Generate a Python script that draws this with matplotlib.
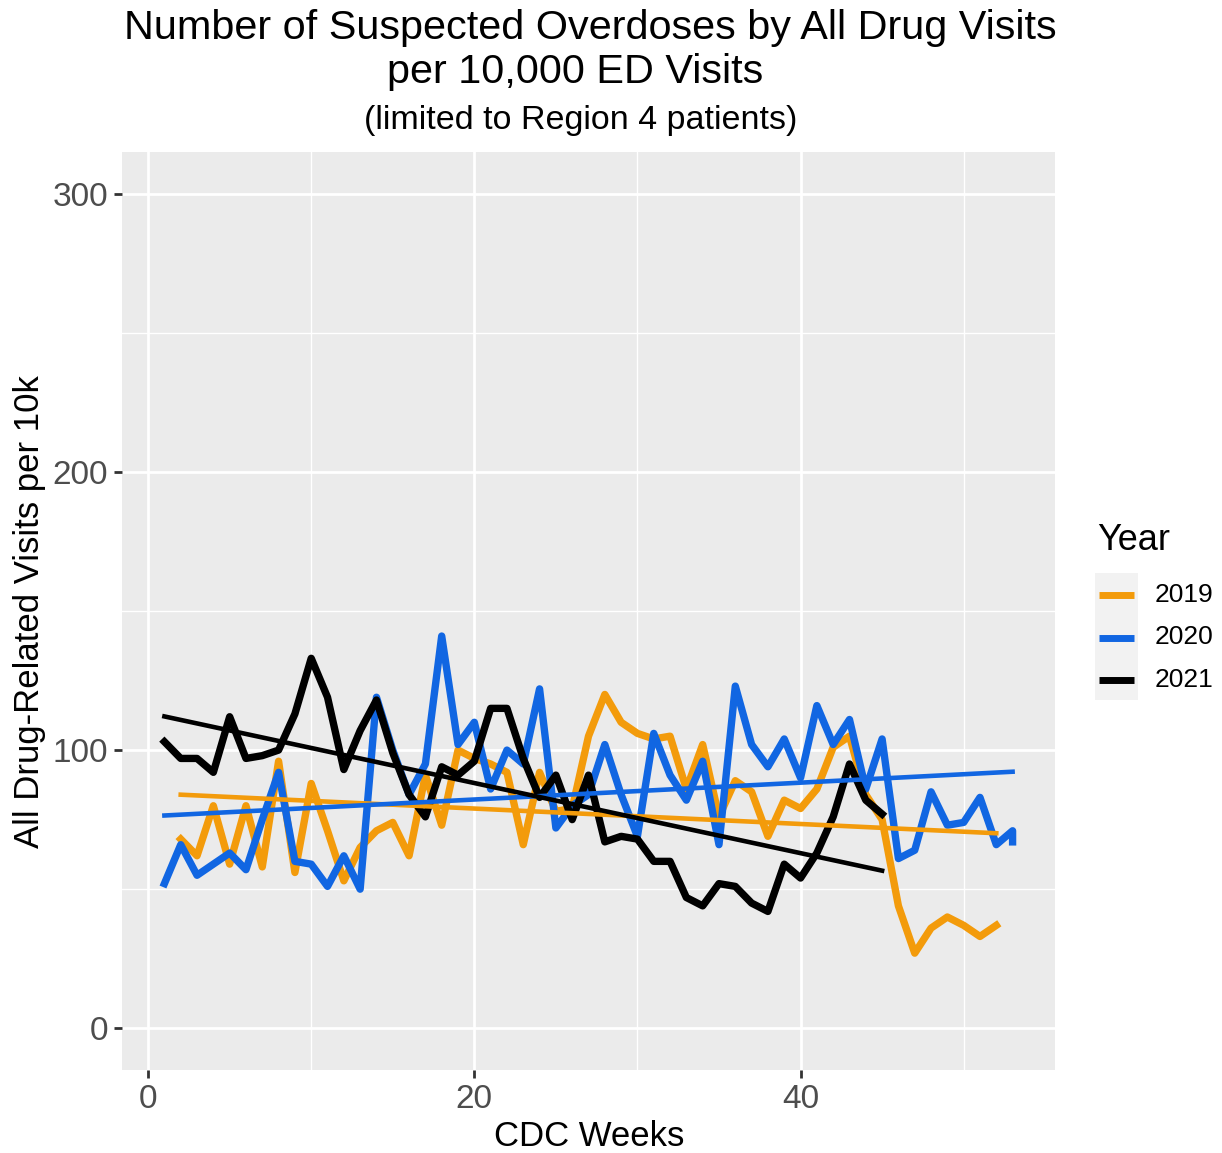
import numpy as np
import matplotlib.pyplot as plt
from matplotlib.lines import Line2D
from matplotlib.patches import Rectangle

plt.rcParams['font.family'] = ['Liberation Sans', 'DejaVu Sans']

# weekly values
weeks_2019 = list(range(2, 53))
visits_2019 = [68, 62, 80, 59, 80, 58, 96, 56, 88, 71, 53, 65, 71, 74, 62, 91, 73, 100,
               97, 95, 92, 66, 92, 78, 79, 105, 120, 110, 106, 104, 105, 86, 102, 76,
               89, 85, 69, 82, 79, 86, 101, 105, 84, 75, 44, 27, 36, 40, 37, 33, 37]

weeks_2020 = list(range(1, 54)) + [53]
visits_2020 = [52, 66, 55, 59, 63, 57, 75, 92, 60, 59, 51, 62, 50, 119, 100, 84, 95, 141,
               102, 110, 86, 100, 95, 122, 72, 80, 84, 102, 84, 69, 106, 91, 82, 96, 66,
               123, 102, 94, 104, 90, 116, 102, 111, 86, 104, 61, 64, 85, 73, 74, 83, 66,
               71, 67]

weeks_2021 = list(range(1, 46))
visits_2021 = [103, 97, 97, 92, 112, 97, 98, 100, 113, 133, 119, 93, 107, 118, 99, 84,
               76, 94, 91, 96, 115, 115, 97, 83, 91, 75, 91, 67, 69, 68, 60, 60, 47, 44,
               52, 51, 45, 42, 59, 54, 63, 76, 95, 82, 77]

years = ['2019', '2020', '2021']
colors = ['#F39B0B', '#1166E2', '#000000']
series = [(weeks_2019, visits_2019), (weeks_2020, visits_2020), (weeks_2021, visits_2021)]

W, H = 1222, 1153
fig = plt.figure(figsize=(W / 100, H / 100), dpi=100)
ax = fig.add_axes([122 / W, 1 - 1070 / H, 933 / W, 918 / H])
ax.set_facecolor('#EBEBEB')

for (wk, val), col in zip(series, colors):
    ax.plot(wk, val, color=col, lw=5.3, solid_joinstyle='round', zorder=3)

# linear trend per year (geom_smooth lm style)
for (wk, val), col in zip(series, colors):
    k, b = np.polyfit(wk, val, 1)
    xs = np.array([min(wk), max(wk)])
    ax.plot(xs, k * xs + b, color=col, lw=3.3, zorder=4)

ax.set_xlim(-1.6, 55.6)
ax.set_ylim(-15, 315)
ax.set_xticks([0, 20, 40])
ax.set_yticks([0, 100, 200, 300])
ax.set_xticks([10, 30, 50], minor=True)
ax.set_yticks([50, 150, 250], minor=True)
ax.grid(which='major', color='white', lw=2)
ax.grid(which='minor', color='white', lw=1)
ax.set_axisbelow(True)
for s in ax.spines.values():
    s.set_visible(False)
ax.tick_params(which='major', length=6, width=2, color='#333333',
               labelcolor='#4D4D4D', labelsize=24, pad=4)
ax.tick_params(which='minor', length=0)

ax.set_xlabel('CDC Weeks', fontsize=25, va='center')
ax.set_ylabel('All Drug-Related Visits per 10k', fontsize=25, va='center')
ax.xaxis.set_label_coords((589 - 122) / 933, (1070 - 1137) / 918)
ax.yaxis.set_label_coords((30 - 122) / 933, (1070 - 612) / 918)

fig.text(590 / W, 1 - 28 / H, 'Number of Suspected Overdoses by All Drug Visits',
         ha='center', va='center', fontsize=29.8)
fig.text(575 / W, 1 - 72 / H, 'per 10,000 ED Visits', ha='center', va='center', fontsize=29.8)
fig.text(581 / W, 1 - 120 / H, '(limited to Region 4 patients)', ha='center', va='center',
         fontsize=24.5)

# legend drawn by hand to mimic the ggplot guide
fig.text(1097 / W, 1 - 541 / H, 'Year', ha='left', va='center', fontsize=26)
fig.add_artist(Rectangle((1095 / W, 1 - 700 / H), 43 / W, 127 / H,
                         transform=fig.transFigure, color='#F2F2F2', lw=0))
for i, (yr, col) in enumerate(zip(years, colors)):
    yy = 1 - (595 + 42.5 * i) / H
    fig.add_artist(Line2D([1099 / W, 1134 / W], [yy, yy], color=col, lw=5,
                          solid_capstyle='butt', transform=fig.transFigure))
    fig.text(1155 / W, yy, yr, ha='left', va='center', fontsize=19)

fig.savefig('out.png', dpi=100)
